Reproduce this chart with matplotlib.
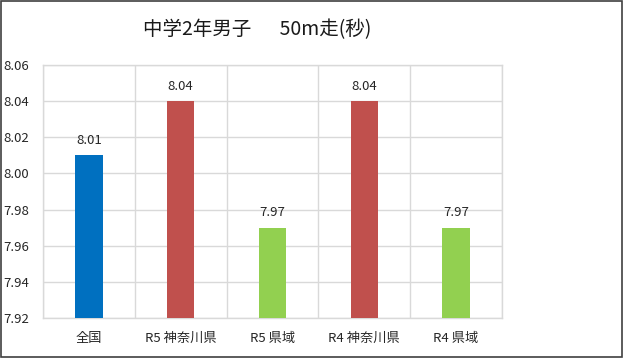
import matplotlib
matplotlib.use('Agg')
import matplotlib.pyplot as plt
from matplotlib.patches import Rectangle

plt.rcParams['font.family'] = ['Noto Sans CJK JP', 'DejaVu Sans']

categories = ['全国', 'R5 神奈川県', 'R5 県域', 'R4 神奈川県', 'R4 県域']
values = [8.01, 8.04, 7.97, 8.04, 7.97]
bar_colors = ['#0070C0', '#C0504D', '#92D050', '#C0504D', '#92D050']
yticks = [7.92, 7.94, 7.96, 7.98, 8.00, 8.02, 8.04, 8.06]

fig = plt.figure(figsize=(6.29, 3.61), dpi=100)
W, H = 629.0, 361.0
ax = fig.add_axes([43 / W, 1 - 318 / H, (502 - 43) / W, (318 - 65) / H])

x = list(range(len(categories)))
ax.bar(x, [v - yticks[0] for v in values], 0.3, bottom=yticks[0],
       color=bar_colors, zorder=3)
for xi, v in zip(x, values):
    ax.annotate('%.2f' % v, (xi, v), xytext=(0, 6), textcoords='offset points',
                ha='center', va='bottom', fontsize=9.5, color='#262626')

ax.set_xlim(-0.5, len(categories) - 0.5)
ax.set_ylim(yticks[0], yticks[-1])
ax.set_yticks(yticks)
ax.set_yticklabels(['%.2f' % t for t in yticks], fontsize=9.5, color='#262626')
ax.set_xticks(x)
ax.set_xticklabels(categories, fontsize=9.5, color='#262626')
ax.set_xticks([i - 0.5 for i in range(len(categories) + 1)], minor=True)
ax.tick_params(axis='y', length=0, pad=10)
ax.tick_params(axis='x', which='both', length=0, pad=10)
ax.grid(axis='y', color='#D9D9D9', linewidth=1, zorder=0)
ax.grid(axis='x', which='minor', color='#D9D9D9', linewidth=1, zorder=0)
for s in ax.spines.values():
    s.set_color('#D9D9D9')
    s.set_linewidth(1)

fig.text(257 / W, 1 - 30 / H, '中学2年男子　  50m走(秒)', ha='center', va='center',
         fontsize=14, color='#1a1a1a')

fig.patches.append(Rectangle((0.5 / W, 1 - 357 / H), 621 / W, 356 / H,
                             transform=fig.transFigure, fill=False,
                             edgecolor='#404040', linewidth=1.2))

fig.savefig('out.png', dpi=100)
